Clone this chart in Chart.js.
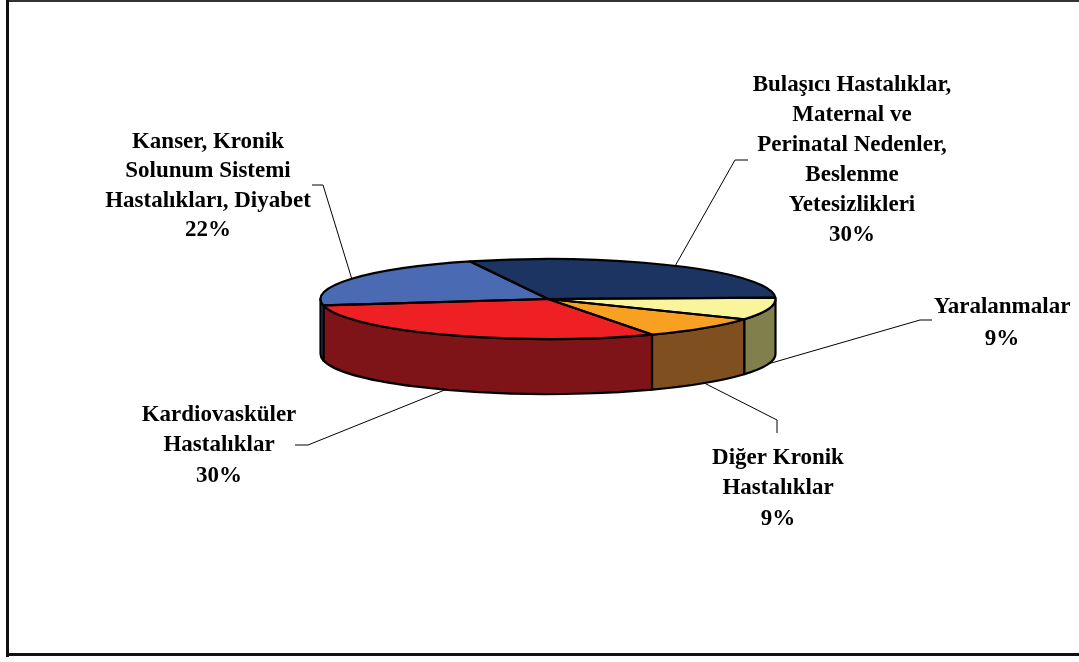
<!DOCTYPE html>
<html>
<head>
<meta charset="utf-8">
<script src="https://cdn.jsdelivr.net/npm/chart.js@4.4.1/dist/chart.umd.min.js"></script>
<style>
  html, body { margin: 0; padding: 0; background: #ffffff; }
  #wrap { position: relative; width: 1079px; height: 662px; }
  canvas { display: block; }
</style>
</head>
<body>
<div id="wrap"><canvas id="c" width="1079" height="662"></canvas></div>
<script>
// ---- data ----
const categories = [
  ["Bulaşıcı Hastalıklar,", "Maternal ve", "Perinatal Nedenler,", "Beslenme", "Yetesizlikleri"],
  ["Yaralanmalar"],
  ["Diğer Kronik", "Hastalıklar"],
  ["Kardiovasküler", "Hastalıklar"],
  ["Kanser, Kronik", "Solunum Sistemi", "Hastalıkları, Diyabet"]
];
const values = [30, 9, 9, 30, 22];
const topColors  = ["#1b3461", "#f8f59c", "#f7a021", "#ee2024", "#4a6ab4"];
const sideColors = ["#14284b", "#80804d", "#7f4f1f", "#7f1418", "#3a58a2"];

// ---- layout (ellipse geometry and label placement) ----
const CX = 548, CY = 299, RX = 227.5, RY = 40, DEPTH = 55;
const labelLayout = [
  { x: 852, y: 85,  lh: 30,   lead: [[748,160],[735,160]] },
  { x: 1002, y: 307, lh: 32,  lead: [[932,320],[920,320]] },
  { x: 778, y: 458, lh: 30.5, lead: [[777,433],[777,420]] },
  { x: 219, y: 415, lh: 30.5, lead: [[295,445],[308,445]] },
  { x: 208, y: 142, lh: 29.5, lead: [[312,185],[323,185]] }
];

function norm(a) { const t = Math.PI * 2; return ((a % t) + t) % t; }

const pie3d = {
  id: 'pie3d',
  beforeDatasetsDraw(chart) {
    const ctx = chart.ctx;
    const meta = chart.getDatasetMeta(0);
    // side walls (front half only: canvas angles 0..PI)
    meta.data.forEach((el, i) => {
      let s = el.startAngle, e = el.endAngle;
      const segs = [];
      for (let k = -2; k <= 2; k++) {
        const lo = Math.max(s, k * 2 * Math.PI), hi = Math.min(e, k * 2 * Math.PI + Math.PI);
        if (hi > lo) segs.push([lo, hi]);
      }
      segs.forEach(([a1, a2]) => {
        ctx.save();
        ctx.beginPath();
        ctx.ellipse(CX, CY, RX, RY, 0, a1, a2, false);
        ctx.lineTo(CX + RX * Math.cos(a2), CY + RY * Math.sin(a2) + DEPTH);
        ctx.ellipse(CX, CY + DEPTH, RX, RY, 0, a2, a1, true);
        ctx.closePath();
        ctx.fillStyle = sideColors[i];
        ctx.fill();
        ctx.lineWidth = 2.2;
        ctx.strokeStyle = '#000';
        ctx.lineJoin = 'round';
        ctx.stroke();
        ctx.restore();
      });
    });
    // squash the top face
    const el0 = meta.data[0];
    const R = el0.outerRadius;
    const sx = RX / R, sy = RY / R;
    ctx.save();
    ctx.translate(CX, CY);
    ctx.scale(sx, sy);
    ctx.translate(-el0.x, -el0.y);
  },
  afterDatasetsDraw(chart) {
    const ctx = chart.ctx;
    ctx.restore();
    const meta = chart.getDatasetMeta(0);
    const el0 = meta.data[0];
    const R = el0.outerRadius;
    const sx = RX / R, sy = RY / R;
    meta.data.forEach((el) => {
      ctx.save();
      ctx.translate(CX, CY);
      ctx.scale(sx, sy);
      ctx.translate(-el.x, -el.y);
      ctx.beginPath();
      ctx.moveTo(el.x, el.y);
      ctx.arc(el.x, el.y, el.outerRadius, el.startAngle, el.endAngle);
      ctx.closePath();
      ctx.restore();
      ctx.lineWidth = 2.2;
      ctx.strokeStyle = '#000';
      ctx.lineJoin = 'round';
      ctx.stroke();
    });
  },
  afterDraw(chart) {
    const ctx = chart.ctx;
    const meta = chart.getDatasetMeta(0);
    const total = values.reduce((a, b) => a + b, 0);
    // frame (top, left, bottom)
    ctx.save();
    ctx.fillStyle = '#333';
    ctx.fillRect(6, 0, 1073, 2);
    ctx.fillStyle = '#111';
    ctx.fillRect(6, 0, 3, 657);
    ctx.fillRect(6, 653, 1073, 3);
    ctx.restore();
    meta.data.forEach((el, i) => {
      const m = (el.startAngle + el.endAngle) / 2;
      const nm = norm(m);
      let px = CX + RX * Math.cos(m);
      let py = CY + RY * Math.sin(m);
      if (nm > 0 && nm < Math.PI) py += DEPTH;
      const L = labelLayout[i];
      ctx.save();
      ctx.strokeStyle = '#000';
      ctx.lineWidth = 1;
      ctx.beginPath();
      ctx.moveTo(L.lead[0][0], L.lead[0][1]);
      ctx.lineTo(L.lead[1][0], L.lead[1][1]);
      ctx.lineTo(px, py);
      ctx.stroke();
      ctx.fillStyle = '#000';
      ctx.font = 'bold 23px "Liberation Serif", "Times New Roman", serif';
      ctx.textAlign = 'center';
      ctx.textBaseline = 'middle';
      const lines = categories[i].concat([Math.round(values[i] / total * 100) + '%']);
      lines.forEach((t, j) => ctx.fillText(t, L.x, L.y + j * L.lh));
      ctx.restore();
    });
  }
};

new Chart(document.getElementById('c'), {
  type: 'pie',
  data: {
    labels: categories.map(c => c.join(' ')),
    datasets: [{
      data: values,
      backgroundColor: topColors,
      borderWidth: 0
    }]
  },
  options: {
    responsive: false,
    animation: false,
    rotation: -20,
    layout: { padding: 20 },
    plugins: { legend: { display: false }, tooltip: { enabled: false } }
  },
  plugins: [pie3d]
});
</script>
</body>
</html>
